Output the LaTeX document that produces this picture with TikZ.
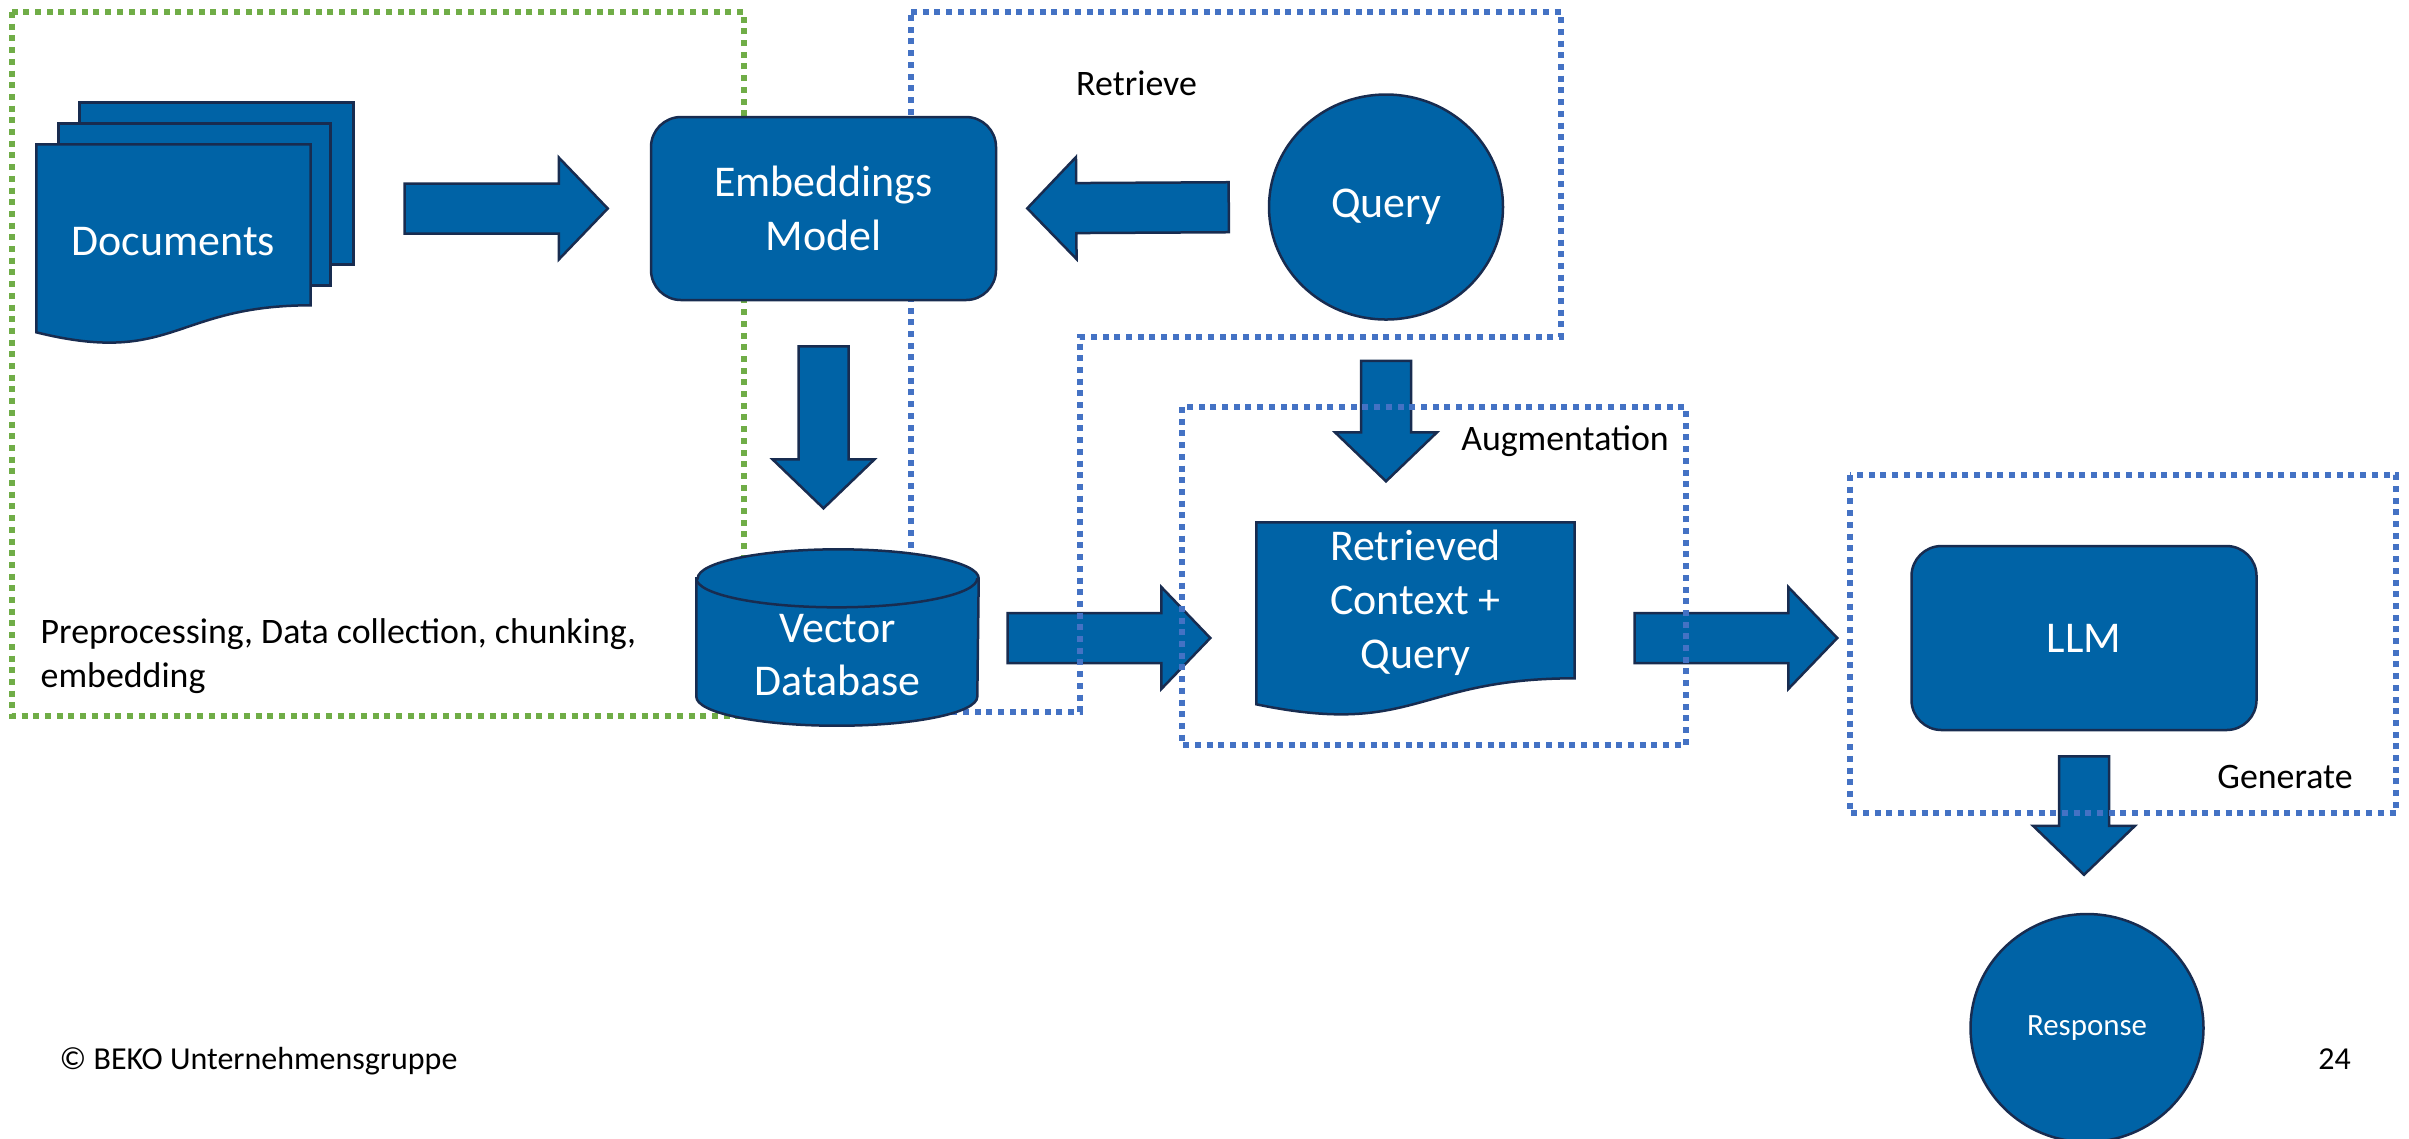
\documentclass[tikz,border=0pt]{standalone}
\usepackage{fontspec}
\setmainfont{Carlito}
\usetikzlibrary{calc,shapes.geometric}

\definecolor{bekoblue}{RGB}{0,99,166}
\definecolor{bekoline}{RGB}{24,44,80}
\definecolor{frameblue}{RGB}{68,114,196}
\definecolor{framegreen}{RGB}{112,173,71}

\pgfdeclarelayer{arrows}
\pgfdeclarelayer{frames}
\pgfdeclarelayer{shapes}
\pgfsetlayers{arrows,frames,shapes,main}

\begin{document}
\begin{tikzpicture}[x=0.1mm, y=-0.1mm,
    block/.style={fill=bekoblue, draw=bekoline, line width=0.25mm,
      text=white, inner sep=0pt, align=center,
      font=\fontsize{12.5pt}{15.3pt}\selectfont},
    textonly/.style={inner sep=0pt, align=center, text=white,
      font=\fontsize{12.5pt}{15.3pt}\selectfont},
    paper/.style={fill=bekoblue, draw=bekoline, line width=0.25mm},
    frame/.style={line width=0.6mm, dash pattern=on 0.6mm off 0.57mm},
    caption/.style={inner sep=0pt, font=\fontsize{10.2pt}{12.6pt}\selectfont},
    fat/.style 2 args={paper, to path={
      let \p1=($(\tikztostart)!#1!(\tikztotarget)$),
          \p2=($(\tikztotarget)!#2!(\tikztostart)$),
          \n1={atan2(\y2-\y1,\x2-\x1)},
          \n2={veclen(\x2-\x1,\y2-\y1)} in
      ([shift={(\p1)},rotate=\n1]0pt,2.5mm)
      -- ([shift={(\p1)},rotate=\n1]\n2-4.9mm,2.5mm)
      -- ([shift={(\p1)},rotate=\n1]\n2-4.9mm,5.1mm)
      -- ([shift={(\p1)},rotate=\n1]\n2,0pt)
      -- ([shift={(\p1)},rotate=\n1]\n2-4.9mm,-5.1mm)
      -- ([shift={(\p1)},rotate=\n1]\n2-4.9mm,-2.5mm)
      -- ([shift={(\p1)},rotate=\n1]0pt,-2.5mm) -- cycle}}
  ]
    \useasboundingbox (0,0) rectangle (2409,1138);

    % Documents
    \node[textonly, minimum width=27.3mm, minimum height=19.4mm] (docs) at (173.5,242) {Documents};

    % Embeddings model
    \node[block, rounded corners=3mm,
      minimum width=34.5mm,
      minimum height=18.3mm] (emb) at (823.5,208.5) {Embeddings\\Model};

    % Query
    \node[block, ellipse,
      minimum width=23.4mm,
      minimum height=22.5mm] (query) at (1386,207) {Query};

    % Vector database
    \node[textonly, minimum width=28.1mm, minimum height=21mm] (vdb) at (837.5,655) {Vector\\Database};

    % Retrieved context
    \node[textonly, minimum width=31.7mm, minimum height=16mm] (ret) at (1415.5,603) {Retrieved\\Context +\\Query};

    % LLM
    \node[block, rounded corners=3mm,
      minimum width=34.5mm,
      minimum height=18.4mm] (llm) at (2084,638) {LLM};

    % Response
    \node[block, ellipse,
      minimum width=23.3mm,
      minimum height=22.8mm,
      font=\fontsize{8.8pt}{10.6pt}\selectfont] (resp) at (2087,1028) {Response};

    % Paper and cylinder outlines
    \begin{pgfonlayer}{shapes}
      \path[paper] ($(docs.north west)+(43,-42)$) rectangle ($(docs.north east)+(43,120)$);
      \path[paper] ($(docs.north west)+(22,-21)$) rectangle ($(docs.north east)+(20,141)$);
      \path[paper] (docs.north west) -- (docs.north east) -- ++(0,161)
        .. controls ($(docs.north)+(0,161)$) and ($(docs.north)+(0,222)$) .. ($(docs.north west)+(0,188)$) -- cycle;

      \path[paper] (ret.north west) -- (ret.north east) -- ++(0,156)
        .. controls ($(ret.north)+(0,156)$) and ($(ret.north)+(0,215)$) .. ($(ret.north west)+(0,182)$) -- cycle;

      \path[paper] ($(vdb.north west)+(0,29)$) -- ($(vdb.south west)+(0,-64)$)
        arc[start angle=180, end angle=360, x radius=14.05mm, y radius=2.9mm]
        -- ($(vdb.north east)+(0,29)$)
        arc[start angle=0, end angle=180, x radius=14.05mm, y radius=2.9mm] -- cycle;
      \draw[bekoline, line width=0.25mm] ($(vdb.north west)+(0,29)$)
        arc[start angle=180, end angle=360, x radius=14.05mm, y radius=2.9mm];
    \end{pgfonlayer}

    % Group frames
    \begin{pgfonlayer}{frames}
      \draw[frame, framegreen] (12,12) rectangle (744,716);
      \draw[frame, frameblue] (911,12) -- (1561,12) -- (1561,337) -- (1080,337)
        -- (1080,712) -- (911,712) -- cycle;
      \draw[frame, frameblue] (1182,407) rectangle (1686,745);
      \draw[frame, frameblue] (1850,475) rectangle (2396,813);
    \end{pgfonlayer}

    % Draw Arrows
    \begin{pgfonlayer}{arrows}
      \path[fat={9.4mm}{4.2mm}] (docs.east |- emb.west) to (emb.west);
      \path[fat={3.9mm}{3.0mm}] (query.west) to (emb.east);
      \path[fat={4.5mm}{4.1mm}] (emb.south) to (emb.south |- vdb.north);
      \path[fat={2.9mm}{4.6mm}] (vdb.east |- llm.west) to (ret.west |- llm.west);
      \path[fat={4.0mm}{4.1mm}] (query.south) to (query.south |- ret.north);
      \path[fat={6.0mm}{7.3mm}] (ret.east |- llm.west) to (llm.west);
      \path[fat={2.5mm}{3.8mm}] (llm.south) to (llm.south |- resp.north);
    \end{pgfonlayer}

    % Text labels
    \node[caption, anchor=base] (retrieve) at (1136.5,95) {Retrieve};
    \node[caption, anchor=base] (augment) at (1565,450) {Augmentation};
    \node[caption, anchor=base] (generate) at (2285,788) {Generate};
    \node[caption, anchor=west, align=left] (prep) at (40,656) {Preprocessing, Data collection, chunking,\\embedding};
    \node[inner sep=0pt, anchor=base west, font=\fontsize{9.1pt}{11pt}\selectfont] (copy) at (59,1069) {© BEKO Unternehmensgruppe};
    \node[inner sep=0pt, anchor=base, font=\fontsize{9.1pt}{11pt}\selectfont] (page) at (2334.5,1069) {24};
  \end{tikzpicture}
\end{document}
